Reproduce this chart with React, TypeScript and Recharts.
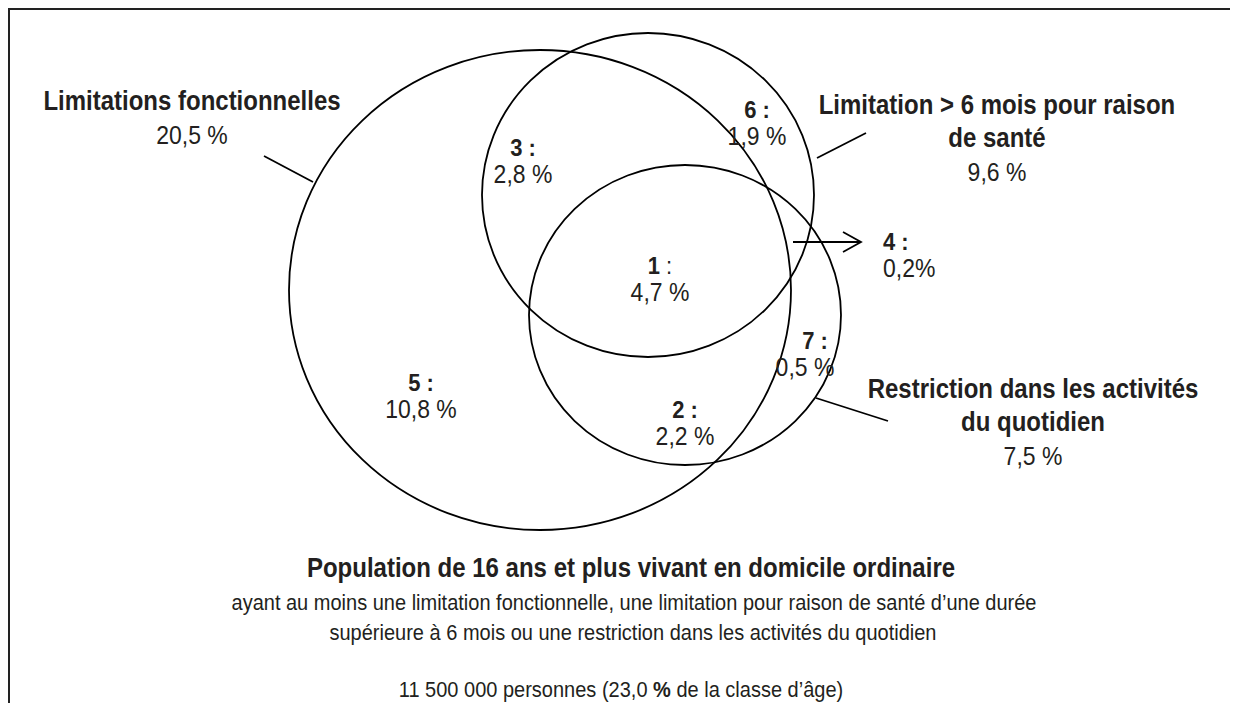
import React from 'react';
import { ScatterChart, Scatter, XAxis, YAxis, ReferenceLine } from 'recharts';

const CHART_W = 1222;
const CHART_H = 695;
// axis domains are page pixels, so one unit = one pixel
const X_DOMAIN: [number, number] = [8, 1230];
const Y_DOMAIN: [number, number] = [8, 703];
const KX = CHART_W / (X_DOMAIN[1] - X_DOMAIN[0]);
const KY = CHART_H / (Y_DOMAIN[1] - Y_DOMAIN[0]);

const FONT = "'Liberation Sans', Arial, Helvetica, sans-serif";
const INK = '#231f20';
const SY = 1.12; // source glyphs are a bit taller than Arial

// the three sets (ellipse centre + half axes)
const setCx = [540, 648, 685];
const setCy = [290, 195, 315];
const setRx = [251, 166, 156];
const setRy = [240, 162, 150];

// set titles
const titleLines = [
  ['Limitations fonctionnelles'],
  ['Limitation > 6 mois pour raison', 'de santé'],
  ['Restriction dans les activités', 'du quotidien'],
];
const titleShares = ['20,5 %', '9,6 %', '7,5 %'];
const titleX = [192, 997, 1033];
const titleY = [110, 114, 398];

// regions of the diagram
const regionIds = ['1', '2', '3', '4', '5', '6', '7'];
const regionShares = ['4,7 %', '2,2 %', '2,8 %', '0,2%', '10,8 %', '1,9 %', '0,5 %'];
const regionColonBold = [false, true, true, true, true, true, true];
const regionX = [660, 685, 523, 883, 421, 757, 815];
const regionShareX = [660, 685, 523, 883, 421, 757, 805];
const regionY = [274, 418, 156, 250, 391, 118, 349];
const regionAnchor = ['middle', 'middle', 'middle', 'start', 'middle', 'middle', 'middle'];

// leader lines from titles to circles
const leaderFrom = [{ x: 264, y: 156 }, { x: 866, y: 133 }, { x: 888, y: 421 }];
const leaderTo = [{ x: 313, y: 182 }, { x: 817, y: 158 }, { x: 816, y: 398 }];
const arrowFrom = { x: 793, y: 242 };
const arrowTo = { x: 861, y: 242 };

// caption under the diagram
const captionLines = [
  'Population de 16 ans et plus vivant en domicile ordinaire',
  'ayant au moins une limitation fonctionnelle, une limitation pour raison de santé d’une durée',
  'supérieure à 6 mois ou une restriction dans les activités du quotidien',
];
const totalPeople = '11 500 000 personnes';
const totalShare = '23,0';

const setRows = setCx.map((x, i) => ({ x, y: setCy[i], rx: setRx[i], ry: setRy[i] }));
const titleRows = titleX.map((x, i) => ({ x, y: titleY[i], lines: titleLines[i], share: titleShares[i] }));
const regionRows = regionX.map((x, i) => ({
  x,
  y: regionY[i],
  id: regionIds[i],
  share: regionShares[i],
  shareDx: (regionShareX[i] - x) * KX,
  colonBold: regionColonBold[i],
  anchor: regionAnchor[i],
}));

const EllipseShape = (p: any) => (
  <ellipse
    cx={p.cx}
    cy={p.cy}
    rx={p.payload.rx * KX}
    ry={p.payload.ry * KY}
    fill="none"
    stroke="#000"
    strokeWidth={1.8}
  />
);

const TitleShape = (p: any) => {
  const { cx, cy, payload } = p;
  return (
    <g transform={`translate(${cx},${cy}) scale(1,${SY})`}>
      <text x={0} y={0} textAnchor="middle" fontFamily={FONT} fill={INK}>
        {payload.lines.map((t: string, i: number) => (
          <tspan key={i} x={0} dy={i === 0 ? 0 : 33 / SY} fontSize={24} fontWeight="bold">
            {t}
          </tspan>
        ))}
        <tspan x={0} dy={34 / SY} fontSize={23}>
          {payload.share}
        </tspan>
      </text>
    </g>
  );
};

const RegionShape = (p: any) => {
  const { cx, cy, payload } = p;
  return (
    <g transform={`translate(${cx},${cy}) scale(1,${SY})`}>
      <text x={0} y={0} textAnchor={payload.anchor} fontFamily={FONT} fill={INK}>
        <tspan fontSize={22} fontWeight="bold">{payload.id}</tspan>
        <tspan fontSize={22} fontWeight={payload.colonBold ? 'bold' : 'normal'}> :</tspan>
        <tspan x={payload.shareDx} dy={27 / SY} fontSize={23}>{payload.share}</tspan>
      </text>
    </g>
  );
};

const ArrowShape = (p: any) => {
  const { x1, y1, x2, y2 } = p;
  return (
    <g stroke="#000" strokeWidth={1.8} fill="none">
      <line x1={x1} y1={y1} x2={x2} y2={y2} />
      <polyline points={`${x2 - 18},${y2 - 10} ${x2},${y2} ${x2 - 18},${y2 + 10}`} />
    </g>
  );
};

const captionStyle = (centre: number, top: number, size: number, bold = false): React.CSSProperties => ({
  position: 'absolute',
  left: centre - 8 - 500,
  top: top - 8,
  width: 1000,
  textAlign: 'center',
  fontSize: size,
  fontWeight: bold ? 'bold' : 'normal',
  whiteSpace: 'nowrap',
  lineHeight: 1,
  transform: `scaleY(${SY})`,
  transformOrigin: '50% 85%',
});

export default function App() {
  return (
    <div style={{ position: 'relative', width: CHART_W, height: CHART_H, background: '#fff' }}>
      <div
        style={{
          position: 'absolute',
          left: 0,
          top: 0,
          right: -8,
          bottom: -8,
          borderLeft: '2px solid #222',
          borderTop: '2px solid #222',
        }}
      />
      <ScatterChart width={CHART_W} height={CHART_H} margin={{ top: 0, right: 0, bottom: 0, left: 0 }}>
        <XAxis type="number" dataKey="x" domain={X_DOMAIN} hide />
        <YAxis type="number" dataKey="y" domain={Y_DOMAIN} reversed hide />
        <Scatter data={setRows} shape={EllipseShape} isAnimationActive={false} />
        {leaderFrom.map((f, i) => (
          <ReferenceLine
            key={i}
            segment={[f, leaderTo[i]]}
            stroke="#000"
            strokeWidth={1.8}
            ifOverflow="visible"
          />
        ))}
        <ReferenceLine segment={[arrowFrom, arrowTo]} shape={ArrowShape} ifOverflow="visible" />
        <Scatter data={titleRows} shape={TitleShape} isAnimationActive={false} />
        <Scatter data={regionRows} shape={RegionShape} isAnimationActive={false} />
      </ScatterChart>
      <div style={{ position: 'absolute', left: 0, top: 0, fontFamily: FONT, color: INK }}>
        <div style={captionStyle(631, 557, 24, true)}>{captionLines[0]}</div>
        <div style={captionStyle(634, 593, 20)}>{captionLines[1]}</div>
        <div style={captionStyle(633, 623, 20)}>{captionLines[2]}</div>
        <div style={captionStyle(621, 680, 20)}>
          {totalPeople} ({totalShare} <b>%</b> de la classe d’âge)
        </div>
      </div>
    </div>
  );
}
